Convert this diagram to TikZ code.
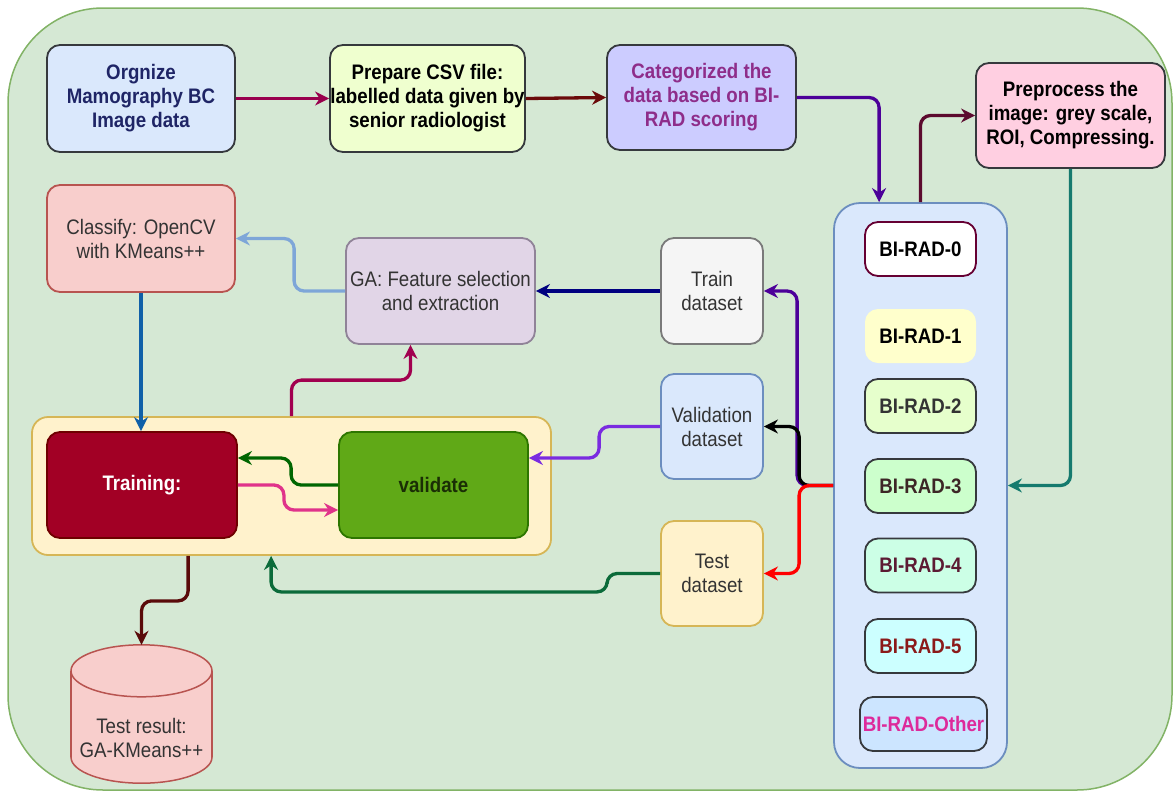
\documentclass[tikz,border=0pt]{standalone}
\usepackage{fontspec}
\setmainfont{Liberation Sans}[FakeStretch=0.89]
\usetikzlibrary{arrows.meta,calc}

% fills and borders
\definecolor{bgF}{HTML}{D5E8D4}\definecolor{bgD}{HTML}{82B366}
\definecolor{boxD}{HTML}{36393D}
\definecolor{orgF}{HTML}{DAE8FC}\definecolor{orgT}{HTML}{1F2566}
\definecolor{prepF}{HTML}{EFFFCF}
\definecolor{catF}{HTML}{CCCCFF}\definecolor{catT}{HTML}{8E2D8A}
\definecolor{preF}{HTML}{FFCFE1}
\definecolor{clsF}{HTML}{F8CECC}\definecolor{clsD}{HTML}{B85450}
\definecolor{gaF}{HTML}{E1D5E7}\definecolor{gaD}{HTML}{908398}
\definecolor{trainF}{HTML}{F5F5F5}\definecolor{trainD}{HTML}{7A7A7A}
\definecolor{blueF}{HTML}{DAE8FC}\definecolor{blueD}{HTML}{6C8EBF}
\definecolor{yelF}{HTML}{FFF2CC}\definecolor{yelD}{HTML}{D6B656}
\definecolor{trnF}{HTML}{A20025}\definecolor{trnD}{HTML}{6F0000}
\definecolor{valF}{HTML}{60A917}\definecolor{valD}{HTML}{2D7600}\definecolor{valT}{HTML}{1A2E05}
\definecolor{labT}{HTML}{333333}
\definecolor{radA}{HTML}{660033}
\definecolor{radOneF}{HTML}{FFFFCC}
\definecolor{radTwoF}{HTML}{E6FFCC}
\definecolor{radThreeF}{HTML}{CCFFCC}\definecolor{radThreeT}{HTML}{3D2626}
\definecolor{radFourF}{HTML}{CCFFE6}\definecolor{radFourT}{HTML}{5C1A33}
\definecolor{radFiveF}{HTML}{CCFFFF}\definecolor{radFiveT}{HTML}{8B1A1A}
\definecolor{radOthF}{HTML}{CCE5FF}\definecolor{radOthT}{HTML}{DD2A9B}
% connector colours
\definecolor{lnCrimson}{HTML}{99004D}
\definecolor{lnDarkRed}{HTML}{6B0A0A}
\definecolor{lnPurple}{HTML}{4C0099}
\definecolor{lnMaroon}{HTML}{5C0A2E}
\definecolor{lnTeal}{HTML}{157A6E}
\definecolor{lnNavy}{HTML}{000080}
\definecolor{lnSky}{HTML}{7EA6D8}
\definecolor{lnBlue}{HTML}{1060A8}
\definecolor{lnRose}{HTML}{A1004F}
\definecolor{lnPink}{HTML}{E0338A}
\definecolor{lnGreen}{HTML}{006600}
\definecolor{lnViolet}{HTML}{7A2BE0}
\definecolor{lnForest}{HTML}{0B6B3A}
\definecolor{lnBrown}{HTML}{5A0A0A}

\begin{document}
\begin{tikzpicture}[x=1pt,y=-1pt,
  every node/.style={font=\fontsize{21}{24}\selectfont, align=center, inner sep=0pt},
  boldtxt/.style={font=\fontsize{21}{24}\selectfont\bfseries},
  card/.style={rounded corners=13pt, line width=1.8pt},
  radbox/.style={card, boldtxt, minimum width=111pt, minimum height=54pt, draw=boxD},
  link/.style={line width=3.3pt, rounded corners=10pt,
    -{Stealth[length=14pt,width=14pt,inset=4.5pt]}},
]
\useasboundingbox (0,0) rectangle (1176,796);

% background panel
\draw[draw=bgD, fill=bgF, line width=1.5pt, rounded corners=95pt] (8,8) rectangle (1172,790);

% top row
\node[card, boldtxt, draw=boxD, fill=orgF, text=orgT, minimum width=188pt, minimum height=107pt]
  (org) at (141,98.5) {Orgnize\\Mamography BC\\Image data};
\node[card, boldtxt, draw=boxD, fill=prepF, text=black, minimum width=195pt, minimum height=107pt]
  (prep) at (427.5,98.5) {Prepare CSV file:\\labelled data given by\\senior radiologist};
\node[card, boldtxt, draw=boxD, fill=catF, text=catT, minimum width=189pt, minimum height=105pt]
  (cat) at (701.5,97.5) {Categorized the\\data based on BI-\\RAD scoring};
\node[card, boldtxt, draw=boxD, fill=preF, text=black, minimum width=189pt, minimum height=105pt]
  (pre) at (1070.5,115.5) {Preprocess the\\image: grey scale,\\ROI, Compressing.};

% middle row
\node[card, draw=clsD, fill=clsF, text=labT, minimum width=188pt, minimum height=107pt]
  (cls) at (141,238.5) {Classify: OpenCV\\with KMeans++};
\node[card, draw=gaD, fill=gaF, text=labT, minimum width=189pt, minimum height=106pt]
  (ga) at (440.5,291) {GA: Feature selection\\and extraction};

% dataset splits
\node[card, draw=trainD, fill=trainF, text=labT, minimum width=102pt, minimum height=106pt]
  (train) at (712,291) {Train\\dataset};
\node[card, draw=blueD, fill=blueF, text=labT, minimum width=102pt, minimum height=105pt]
  (valid) at (712,426.5) {Validation\\dataset};
\node[card, draw=yelD, fill=yelF, text=labT, minimum width=102pt, minimum height=105pt]
  (test) at (712,573.5) {Test\\dataset};

% BI-RAD categories
\node[rounded corners=26pt, line width=1.8pt, draw=blueD, fill=blueF, minimum width=173pt, minimum height=565pt]
  (cont) at (920.5,485.5) {};
\node[radbox, draw=radA, fill=white, text=black] (r0) at (920.5,249) {BI-RAD-0};
\node[radbox, draw=none, fill=radOneF, text=black] (r1) at (920.5,336) {BI-RAD-1};
\node[radbox, fill=radTwoF, text=labT] (r2) at (920.5,406) {BI-RAD-2};
\node[radbox, fill=radThreeF, text=radThreeT] (r3) at (920.5,486) {BI-RAD-3};
\node[radbox, fill=radFourF, text=radFourT] (r4) at (920.5,565.5) {BI-RAD-4};
\node[radbox, fill=radFiveF, text=radFiveT] (r5) at (920.5,646) {BI-RAD-5};
\node[radbox, fill=radOthF, text=radOthT, minimum width=127pt] (r6) at (923.5,724) {BI-RAD-Other};

% training loop
\node[rounded corners=16pt, line width=1.8pt, draw=yelD, fill=yelF, minimum width=519pt, minimum height=138pt]
  (tcont) at (291.5,486) {};
\node[card, boldtxt, draw=trnD, fill=trnF, text=white, minimum width=190pt, minimum height=106pt]
  (trn) at (142,485) {Training:};
\node[card, boldtxt, draw=valD, fill=valF, text=valT, minimum width=189pt, minimum height=106pt]
  (val) at (433.5,485) {validate};

% result store (cylinder)
\node[minimum width=141pt, minimum height=138pt] (cyl) at (141.5,714) {};
\begin{scope}[line width=1.5pt]
  \filldraw[fill=clsF, draw=clsD] ($(cyl.south)+(0,-26)$) ellipse [x radius=70.5, y radius=26];
  \fill[clsF] ($(cyl.north west)+(0,26)$) rectangle ($(cyl.south east)+(0,-26)$);
  \draw[clsD] ($(cyl.north west)+(0,26)$) -- ($(cyl.south west)+(0,-26)$)
              ($(cyl.north east)+(0,26)$) -- ($(cyl.south east)+(0,-26)$);
  \filldraw[fill=clsF, draw=clsD] ($(cyl.north)+(0,26)$) ellipse [x radius=70.5, y radius=26];
\end{scope}
\node[text=labT] (cyltext) at (141.5,738) {Test result:\\GA-KMeans++};

% connectors
\draw[link, lnCrimson] (org.east) -- (prep.west);
\draw[link, lnDarkRed] (prep.east) -- (cat.west);
\draw[link, lnPurple] (cat.east) -| ($(cont.north west)+(46,0)$);
\draw[link, lnMaroon] (cont.north) |- (pre.west);
\draw[link, lnTeal] (pre.south) |- (cont.east);

\draw[link, lnPurple] (cont.west) -- ++(-36,0) |- (train.east);
\draw[link, black] (cont.west) -- ++(-34,0) |- (valid.east);
\draw[link, red] (cont.west) -- ++(-34,0) |- (test.east);

\draw[link, lnNavy] (train.west) -- (ga.east);
\draw[link, lnSky] (ga.west) -- ++(-51,0) |- (cls.east);
\draw[link, lnBlue] (cls.south) -- (cls.south |- trn.north);
\draw[link, lnRose] (tcont.north) -- ++(0,-36) -| ($(ga.south)+(-30,0)$);

\draw[link, lnPink] (trn.east) -- ++(46,0) |- ($(val.west)+(0,25)$);
\draw[link, lnGreen] (val.west) -- ++(-47,0) |- ($(trn.east)+(0,-27)$);
\draw[link, lnViolet] (valid.west) -- ++(-61,0) |- ($(val.east)+(0,-27)$);

\draw[link, lnForest] (test.west) -- ++(-53,0) |- ($(tcont.south west)+(240,36)$)
  -- ($(tcont.south west)+(240,0)$);
\draw[link, lnBrown] ($(tcont.south west)+(157,0)$) -- ++(0,45) -| (cyl.north);
\end{tikzpicture}
\end{document}
